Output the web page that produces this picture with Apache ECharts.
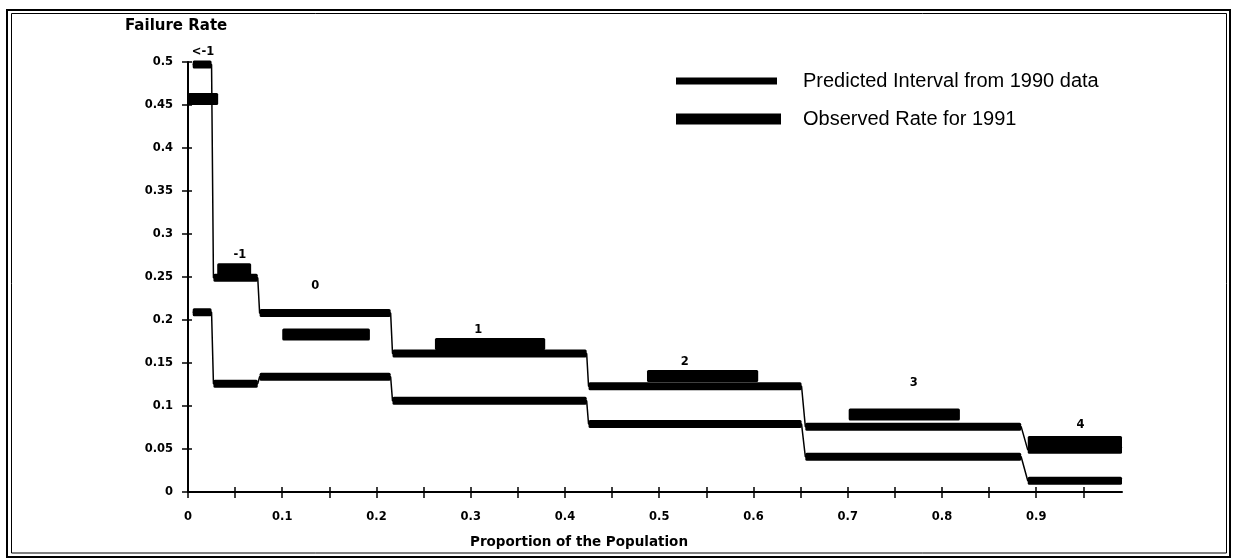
<!DOCTYPE html>
<html>
<head>
<meta charset="utf-8">
<title>Failure Rate by Proportion of the Population</title>
<script src="https://cdn.jsdelivr.net/npm/echarts@6/dist/echarts.min.js"></script>
<style>
  html, body { margin: 0; padding: 0; background: #fff; }
  #chart { width: 1234px; height: 560px; }
</style>
</head>
<body>
<div id="chart"></div>
<script>
// Risk groups, left to right along the population axis
const groups = ['<-1', '-1', '0', '1', '2', '3', '4'];

// Population share covered by each group's predicted interval (start, end)
const predStart = [0.005, 0.027, 0.076, 0.217, 0.425, 0.655, 0.891];
const predEnd   = [0.025, 0.074, 0.215, 0.423, 0.651, 0.884, 0.991];

// Predicted interval bounds from the 1990 data
const predUpper = [0.497, 0.249, 0.208, 0.161, 0.123, 0.076, 0.049];
const predLower = [0.209, 0.126, 0.134, 0.106, 0.079, 0.041, 0.013];

// Observed 1991 failure rate and the population span it is drawn over
const obsStart = [0.000, 0.031, 0.100, 0.262, 0.487, 0.701, 0.891];
const obsEnd   = [0.032, 0.067, 0.193, 0.379, 0.605, 0.819, 0.991];
const obsRate  = [0.457, 0.259, 0.183, 0.172, 0.135, 0.090, 0.058];

// Where each group's name sits (population share, rate)
const labelX = [0.016, 0.055, 0.135, 0.308, 0.527, 0.770, 0.947];
const labelY = [0.512, 0.276, 0.240, 0.188, 0.151, 0.127, 0.078];

// Axis ticks and labels
const xTickValues  = [0, 0.05, 0.1, 0.15, 0.2, 0.25, 0.3, 0.35, 0.4, 0.45, 0.5, 0.55, 0.6, 0.65, 0.7, 0.75, 0.8, 0.85, 0.9, 0.95];
const xLabelValues = [0, 0.1, 0.2, 0.3, 0.4, 0.5, 0.6, 0.7, 0.8, 0.9];

const PRED = 'Predicted Interval from 1990 data';
const OBS = 'Observed Rate for 1991';
const INK = '#000';
const TICK_FONT = 'DejaVu Sans';

// Step path through each group's bound: bar start, bar end, then on to the next group
function stepPath(values) {
  const pts = [];
  groups.forEach((g, i) => {
    pts.push([predStart[i], values[i]]);
    pts.push([predEnd[i], values[i]]);
  });
  return pts;
}

const predBars = [];
groups.forEach((g, i) => {
  predBars.push([predStart[i], predEnd[i], predUpper[i]]);
  predBars.push([predStart[i], predEnd[i], predLower[i]]);
});
const obsBars = groups.map((g, i) => [obsStart[i], obsEnd[i], obsRate[i]]);
const groupLabels = groups.map((g, i) => [labelX[i], labelY[i], g]);

// Horizontal bar of fixed pixel thickness between two population shares
function barRenderer(thickness) {
  return function (params, api) {
    const p0 = api.coord([api.value(0), api.value(2)]);
    const p1 = api.coord([api.value(1), api.value(2)]);
    return {
      type: 'rect',
      shape: { x: p0[0], y: p0[1] - thickness / 2, width: p1[0] - p0[0], height: thickness, r: 1.5 },
      style: { fill: INK }
    };
  };
}

const axisLabelStyle = { color: INK, fontFamily: TICK_FONT, fontWeight: 'bold', fontSize: 11.5 };

const chart = echarts.init(document.getElementById('chart'), null, { renderer: 'canvas' });
chart.setOption({
  backgroundColor: '#fff',
  animation: false,
  title: {
    text: 'Failure Rate',
    left: 125,
    top: 19,
    padding: 0,
    textStyle: { color: INK, fontFamily: TICK_FONT, fontWeight: 'bold', fontSize: 15 }
  },
  legend: [
    {
      data: [{ name: PRED, icon: 'rect', itemStyle: { color: INK } }],
      left: 676, top: 71, padding: 0,
      itemWidth: 101, itemHeight: 7,
      selectedMode: false,
      textStyle: { color: INK, fontFamily: 'Liberation Sans, Arial', fontSize: 20, lineHeight: 20, padding: [0, 0, 0, 21] }
    },
    {
      data: [{ name: OBS, icon: 'rect', itemStyle: { color: INK } }],
      left: 676, top: 109, padding: 0,
      itemWidth: 105, itemHeight: 11,
      selectedMode: false,
      textStyle: { color: INK, fontFamily: 'Liberation Sans, Arial', fontSize: 20, lineHeight: 20, padding: [0, 0, 0, 17] }
    }
  ],
  grid: { left: 188, right: 112, top: 62, bottom: 68, containLabel: false },
  xAxis: [
    {
      type: 'value', min: 0, max: 0.991, position: 'bottom',
      splitLine: { show: false },
      axisLine: { show: true, lineStyle: { color: INK, width: 2 } },
      axisTick: { show: true, inside: false, length: 6, lineStyle: { color: INK, width: 1.5 }, customValues: xTickValues },
      axisLabel: { show: true, margin: 19, customValues: xLabelValues, formatter: v => String(+v.toFixed(2)), ...axisLabelStyle }
    },
    {
      // inner half of the crossing tick marks
      type: 'value', min: 0, max: 0.991, position: 'bottom',
      splitLine: { show: false },
      axisLine: { show: false },
      axisTick: { show: true, inside: true, length: 5, lineStyle: { color: INK, width: 1.5 }, customValues: xTickValues },
      axisLabel: { show: false }
    }
  ],
  yAxis: [
    {
      type: 'value', min: 0, max: 0.5, interval: 0.05, position: 'left',
      splitLine: { show: false },
      axisLine: { show: true, lineStyle: { color: INK, width: 2 } },
      axisTick: { show: true, inside: false, length: 6, lineStyle: { color: INK, width: 1.5 } },
      axisLabel: { show: true, margin: 15, formatter: v => String(+v.toFixed(2)), ...axisLabelStyle }
    },
    {
      type: 'value', min: 0, max: 0.5, interval: 0.05, position: 'left',
      splitLine: { show: false },
      axisLine: { show: false },
      axisTick: { show: true, inside: true, length: 4, lineStyle: { color: INK, width: 1.5 } },
      axisLabel: { show: false }
    }
  ],
  series: [
    {
      name: 'Predicted upper bound',
      type: 'line',
      data: stepPath(predUpper),
      symbol: 'none',
      lineStyle: { color: INK, width: 1.5 },
      z: 2
    },
    {
      name: 'Predicted lower bound',
      type: 'line',
      data: stepPath(predLower),
      symbol: 'none',
      lineStyle: { color: INK, width: 1.5 },
      z: 2
    },
    {
      name: PRED,
      type: 'custom',
      data: predBars,
      encode: { x: [0, 1], y: 2 },
      itemStyle: { color: INK },
      renderItem: barRenderer(8),
      z: 3
    },
    {
      name: OBS,
      type: 'custom',
      data: obsBars,
      encode: { x: [0, 1], y: 2 },
      itemStyle: { color: INK },
      renderItem: barRenderer(12),
      z: 4
    },
    {
      name: 'Group',
      type: 'custom',
      data: groupLabels,
      encode: { x: 0, y: 1 },
      clip: false,
      renderItem: function (params, api) {
        const p = api.coord([api.value(0), api.value(1)]);
        return {
          type: 'text',
          x: p[0], y: p[1],
          style: {
            text: groups[params.dataIndex],
            fill: INK,
            font: 'bold 11.5px "DejaVu Sans"',
            align: 'center',
            verticalAlign: 'middle'
          }
        };
      },
      z: 5
    }
  ],
  graphic: [
    {
      type: 'text',
      left: 470, top: 535,
      style: {
        text: 'Proportion of the Population',
        fill: INK,
        font: 'bold 13.5px "DejaVu Sans"'
      }
    },
    {
      type: 'rect',
      shape: { x: 7, y: 10, width: 1223, height: 547 },
      style: { fill: null, stroke: INK, lineWidth: 2 },
      silent: true
    },
    {
      type: 'rect',
      shape: { x: 11.5, y: 13.5, width: 1215, height: 539.5 },
      style: { fill: null, stroke: INK, lineWidth: 1 },
      silent: true
    }
  ]
});
</script>
</body>
</html>
